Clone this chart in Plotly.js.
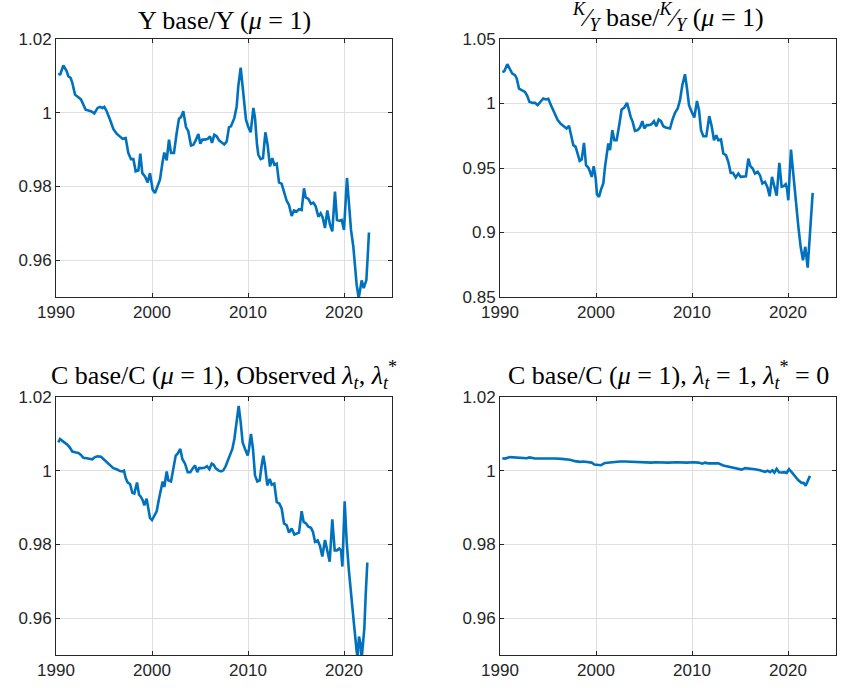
<!DOCTYPE html>
<html>
<head>
<meta charset="utf-8">
<script src="https://cdn.plot.ly/plotly-3.0.1.min.js"></script>
<style>
html,body{margin:0;padding:0;background:#fff;}
#chart{width:842px;height:688px;}
</style>
</head>
<body>
<div id="chart"></div>
<script>
// Panel 1: Y base/Y (mu = 1)
const yearsY = [1990.31,1990.42,1990.76,1991.11,1991.28,1991.53,1991.70,1991.98,1992.26,1992.60,1992.85,1993.09,1993.37,1993.65,1993.99,1994.34,1994.58,1994.83,1995.03,1995.28,1995.63,1995.97,1996.32,1996.67,1996.94,1997.26,1997.53,1997.81,1998.06,1998.30,1998.58,1998.78,1998.99,1999.27,1999.55,1999.79,2000.07,2000.31,2000.59,2000.83,2001.08,2001.28,2001.53,2001.77,2001.98,2002.29,2002.57,2002.81,2003.02,2003.26,2003.54,2003.78,2004.06,2004.31,2004.55,2004.83,2005.03,2005.24,2005.52,2005.80,2006.04,2006.25,2006.49,2006.74,2006.98,2007.26,2007.53,2007.78,2008.02,2008.23,2008.58,2008.82,2008.99,2009.24,2009.41,2009.58,2009.79,2010.03,2010.28,2010.56,2010.73,2010.94,2011.08,2011.32,2011.56,2011.81,2012.05,2012.29,2012.53,2012.74,2012.99,2013.23,2013.51,2013.79,2014.03,2014.27,2014.55,2014.79,2015.07,2015.31,2015.59,2015.83,2016.01,2016.29,2016.56,2016.81,2017.05,2017.33,2017.57,2017.78,2018.02,2018.26,2018.54,2018.78,2019.06,2019.27,2019.51,2019.76,2020.00,2020.31,2020.52,2020.73,2020.97,2021.15,2021.32,2021.53,2021.67,2021.84,2022.05,2022.33,2022.47,2022.60];
const valsY = [1.0108,1.0102,1.0128,1.0113,1.0099,1.0094,1.0081,1.0049,1.0043,1.0036,1.0022,1.0008,1.0006,1.0004,0.9998,1.0013,1.0016,1.0013,1.0016,1.0004,0.9981,0.9956,0.9943,0.9936,0.9929,0.9931,0.9891,0.9874,0.9874,0.9841,0.9843,0.9889,0.9836,0.9827,0.9811,0.9836,0.9791,0.9782,0.9800,0.9818,0.9863,0.9892,0.9871,0.9927,0.9891,0.9891,0.9945,0.9984,0.9988,1.0004,0.9961,0.9950,0.9911,0.9913,0.9925,0.9942,0.9916,0.9927,0.9927,0.9929,0.9936,0.9918,0.9940,0.9936,0.9925,0.9918,0.9914,0.9922,0.9961,0.9963,0.9986,1.0017,1.0072,1.0122,1.0072,1.0026,0.9981,0.9961,0.9947,1.0013,0.9986,0.9913,0.9886,0.9874,0.9877,0.9947,0.9911,0.9854,0.9877,0.9859,0.9862,0.9811,0.9807,0.9782,0.9761,0.9750,0.9720,0.9735,0.9732,0.9738,0.9736,0.9795,0.9770,0.9766,0.9753,0.9756,0.9746,0.9718,0.9727,0.9716,0.9687,0.9735,0.9696,0.9678,0.9786,0.9709,0.9707,0.9709,0.9682,0.9823,0.9750,0.9682,0.9637,0.9583,0.9533,0.9497,0.9524,0.9545,0.9524,0.9546,0.9610,0.9675];

// Panel 2: K/Y base / K/Y (mu = 1)
const yearsKY = [1990.24,1990.45,1990.76,1991.04,1991.28,1991.56,1991.74,1991.98,1992.26,1992.60,1992.85,1993.06,1993.37,1993.65,1993.92,1994.17,1994.51,1994.76,1995.03,1995.31,1995.66,1996.01,1996.35,1996.67,1996.94,1997.19,1997.40,1997.64,1997.88,1998.09,1998.30,1998.51,1998.75,1998.96,1999.20,1999.38,1999.55,1999.76,1999.97,2000.10,2000.31,2000.52,2000.76,2000.94,2001.15,2001.28,2001.46,2001.70,2001.91,2002.15,2002.40,2002.67,2002.95,2003.23,2003.44,2003.61,2003.82,2004.06,2004.34,2004.58,2004.83,2005.03,2005.28,2005.52,2005.80,2006.04,2006.28,2006.53,2006.77,2007.01,2007.26,2007.53,2007.71,2007.95,2008.23,2008.51,2008.75,2008.99,2009.27,2009.48,2009.69,2009.97,2010.24,2010.52,2010.73,2010.94,2011.18,2011.49,2011.80,2012.05,2012.29,2012.53,2012.74,2013.02,2013.26,2013.54,2013.78,2014.03,2014.27,2014.55,2014.83,2015.07,2015.38,2015.62,2015.87,2016.08,2016.32,2016.56,2016.84,2017.08,2017.33,2017.60,2017.85,2018.09,2018.33,2018.58,2018.82,2019.10,2019.34,2019.55,2019.76,2019.90,2020.03,2020.31,2020.56,2020.80,2021.08,2021.32,2021.56,2021.80,2022.05,2022.29,2022.57];
const valsKY = [1.0245,1.0250,1.0305,1.0271,1.0232,1.0219,1.0194,1.0116,1.0103,1.0090,1.0057,1.0013,1.0005,1.0005,0.9987,1.0013,1.0039,1.0031,1.0036,0.9987,0.9935,0.9871,0.9840,0.9824,0.9806,0.9827,0.9754,0.9677,0.9664,0.9599,0.9555,0.9566,0.9695,0.9522,0.9504,0.9470,0.9431,0.9514,0.9418,0.9297,0.9276,0.9333,0.9380,0.9509,0.9638,0.9690,0.9638,0.9793,0.9715,0.9715,0.9824,0.9953,0.9969,1.0005,0.9948,0.9896,0.9858,0.9788,0.9793,0.9814,0.9863,0.9806,0.9832,0.9832,0.9840,0.9863,0.9824,0.9876,0.9863,0.9824,0.9814,0.9806,0.9806,0.9871,0.9927,0.9961,1.0026,1.0142,1.0227,1.0116,0.9987,0.9935,0.9891,1.0020,0.9948,0.9793,0.9746,0.9746,0.9902,0.9824,0.9715,0.9754,0.9715,0.9721,0.9612,0.9599,0.9548,0.9462,0.9462,0.9426,0.9457,0.9431,0.9436,0.9436,0.9573,0.9514,0.9496,0.9457,0.9470,0.9444,0.9380,0.9393,0.9354,0.9281,0.9431,0.9354,0.9286,0.9540,0.9354,0.9359,0.9374,0.9341,0.9250,0.9643,0.9431,0.9230,0.9044,0.8889,0.8785,0.8889,0.8728,0.8992,0.9307];

// Panel 3: C base/C (mu = 1), observed lambda
const yearsC1 = [1990.24,1990.42,1990.66,1990.94,1991.22,1991.46,1991.70,1991.98,1992.33,1992.60,1992.85,1993.19,1993.54,1993.78,1994.06,1994.34,1994.69,1994.93,1995.28,1995.63,1995.97,1996.32,1996.67,1996.91,1997.08,1997.26,1997.47,1997.71,1997.95,1998.16,1998.44,1998.65,1998.85,1999.03,1999.20,1999.44,1999.62,1999.79,2000.00,2000.21,2000.49,2000.73,2000.94,2001.11,2001.28,2001.53,2001.70,2001.98,2002.22,2002.47,2002.67,2002.95,2003.16,2003.44,2003.72,2003.99,2004.27,2004.48,2004.72,2004.90,2005.17,2005.45,2005.73,2005.97,2006.22,2006.42,2006.63,2006.91,2007.19,2007.43,2007.67,2007.88,2008.13,2008.37,2008.58,2008.79,2009.03,2009.24,2009.44,2009.69,2009.97,2010.10,2010.31,2010.52,2010.73,2010.97,2011.22,2011.42,2011.60,2011.77,2012.01,2012.26,2012.47,2012.74,2012.99,2013.26,2013.51,2013.75,2014.03,2014.27,2014.55,2014.83,2015.07,2015.31,2015.59,2015.80,2016.04,2016.29,2016.56,2016.77,2016.98,2017.26,2017.50,2017.74,2018.02,2018.26,2018.51,2018.78,2019.03,2019.27,2019.51,2019.69,2019.83,2020.07,2020.28,2020.52,2020.80,2021.08,2021.32,2021.42,2021.56,2021.74,2021.84,2022.12,2022.26,2022.43];
const valsC1 = [1.0077,1.0086,1.0081,1.0075,1.0070,1.0062,1.0052,1.0050,1.0048,1.0043,1.0035,1.0034,1.0032,1.0031,1.0037,1.0039,1.0038,1.0032,1.0023,1.0014,1.0007,1.0004,0.9999,0.9998,1.0000,0.9980,0.9968,0.9964,0.9940,0.9938,0.9968,0.9935,0.9929,0.9920,0.9906,0.9924,0.9890,0.9872,0.9866,0.9877,0.9890,0.9924,0.9956,0.9971,0.9956,0.9998,0.9974,0.9971,1.0005,1.0041,1.0046,1.0059,1.0032,1.0019,0.9996,0.9996,1.0007,1.0014,0.9996,1.0007,1.0007,1.0008,1.0012,1.0004,1.0019,1.0016,1.0007,1.0001,0.9998,1.0001,1.0012,1.0028,1.0046,1.0059,1.0086,1.0131,1.0176,1.0131,1.0077,1.0059,1.0041,1.0059,1.0100,1.0059,0.9987,0.9971,0.9974,1.0014,1.0041,1.0014,0.9960,0.9978,0.9962,0.9965,0.9915,0.9911,0.9897,0.9857,0.9852,0.9832,0.9843,0.9827,0.9830,0.9832,0.9890,0.9861,0.9857,0.9848,0.9845,0.9834,0.9807,0.9811,0.9796,0.9767,0.9812,0.9787,0.9753,0.9868,0.9784,0.9784,0.9789,0.9784,0.9740,0.9917,0.9807,0.9726,0.9640,0.9573,0.9510,0.9490,0.9550,0.9528,0.9490,0.9573,0.9663,0.9751];

// Panel 4: C base/C (mu = 1), lambda_t = 1, lambda*_t = 0
const yearsC2 = [1990.24,1990.52,1991.04,1991.56,1992.26,1992.78,1993.06,1993.65,1994.34,1995.03,1995.73,1996.42,1996.94,1997.29,1997.81,1998.33,1998.68,1999.03,1999.55,1999.83,2000.24,2000.52,2000.94,2001.46,2001.98,2002.50,2003.02,2003.72,2004.41,2005.10,2005.80,2006.15,2006.84,2007.53,2008.40,2008.92,2009.44,2010.14,2010.66,2011.08,2011.35,2011.70,2012.22,2012.74,2013.26,2013.78,2014.31,2014.83,2015.17,2015.52,2016.04,2016.56,2017.08,2017.60,2017.88,2018.13,2018.37,2018.58,2018.82,2019.06,2019.34,2019.62,2019.86,2020.10,2020.38,2020.73,2021.08,2021.42,2021.63,2021.84,2022.05,2022.29];
const valsC2 = [1.0034,1.0033,1.0037,1.0036,1.0034,1.0034,1.0036,1.0033,1.0033,1.0034,1.0033,1.0032,1.0032,1.0030,1.0026,1.0024,1.0025,1.0023,1.0022,1.0017,1.0016,1.0015,1.0021,1.0023,1.0023,1.0025,1.0025,1.0024,1.0023,1.0023,1.0022,1.0023,1.0022,1.0022,1.0023,1.0022,1.0022,1.0023,1.0022,1.0019,1.0022,1.0020,1.0020,1.0020,1.0014,1.0011,1.0008,1.0005,1.0003,1.0007,1.0006,1.0004,1.0001,0.9997,1.0000,0.9996,1.0001,0.9995,1.0005,0.9996,0.9995,0.9996,0.9994,1.0004,0.9996,0.9985,0.9974,0.9967,0.9967,0.9959,0.9972,0.9986];

const xTicks = [1990, 2000, 2010, 2020];
const xTickText = ['1990', '2000', '2010', '2020'];
const yTicksA = [0.96, 0.98, 1, 1.02];
const yTickTextA = ['0.96', '0.98', '1', '1.02'];
const yTicksB = [0.85, 0.9, 0.95, 1, 1.05];
const yTickTextB = ['0.85', '0.9', '0.95', '1', '1.05'];

const titles = [
  'Y base/Y (<i>μ</i> = 1)',
  '<sup><i>K</i></sup>⁄<sub><i>Y</i></sub> base/<sup><i>K</i></sup>⁄<sub><i>Y</i></sub> (<i>μ</i> = 1)',
  'C base/C (<i>μ</i> = 1), Observed <i>λ</i><sub><i>t</i></sub>, <i>λ</i><sub><i>t</i></sub><sup>*</sup>',
  'C base/C (<i>μ</i> = 1), <i>λ</i><sub><i>t</i></sub> = 1, <i>λ</i><sub><i>t</i></sub><sup>*</sup> = 0'
];

const W = 842, H = 688;
const xDomL = [56 / W, 392 / W];
const xDomR = [500 / W, 836 / W];
const yDomT = [(H - 297) / H, (H - 39) / H];
const yDomB = [(H - 655) / H, (H - 397) / H];

const lineStyle = {color: '#0072BD', width: 2.6};
const traces = [
  {x: yearsY, y: valsY, xaxis: 'x', yaxis: 'y'},
  {x: yearsKY, y: valsKY, xaxis: 'x2', yaxis: 'y2'},
  {x: yearsC1, y: valsC1, xaxis: 'x3', yaxis: 'y3'},
  {x: yearsC2, y: valsC2, xaxis: 'x4', yaxis: 'y4'}
].map(t => Object.assign(t, {type: 'scatter', mode: 'lines', line: lineStyle, hoverinfo: 'skip'}));

const axisColor = '#262626';
const tickFont = {family: 'Liberation Sans, Arial, sans-serif', size: 17, color: axisColor};
function xAxis(dom, anchor) {
  return {
    domain: dom, anchor: anchor, range: [1990, 2025],
    tickmode: 'array', tickvals: xTicks, ticktext: xTickText,
    ticks: 'inside', ticklen: 4, tickcolor: axisColor, tickwidth: 1,
    showline: true, linecolor: axisColor, linewidth: 1, mirror: 'ticks',
    showgrid: true, gridcolor: '#dfdfdf', gridwidth: 1, zeroline: false,
    tickfont: tickFont
  };
}
function yAxis(dom, anchor, range, tv, tt) {
  return {
    domain: dom, anchor: anchor, range: range,
    tickmode: 'array', tickvals: tv, ticktext: tt,
    ticks: 'inside', ticklen: 4, tickcolor: axisColor, tickwidth: 1,
    showline: true, linecolor: axisColor, linewidth: 1, mirror: 'ticks',
    showgrid: true, gridcolor: '#dfdfdf', gridwidth: 1, zeroline: false,
    tickfont: tickFont
  };
}

const titleFont = {family: 'Liberation Serif, Times New Roman, serif', size: 26, color: '#000'};
const annotations = [
  {x: (xDomL[0] + xDomL[1]) / 2, y: yDomT[1], text: titles[0]},
  {x: (xDomR[0] + xDomR[1]) / 2, y: yDomT[1], text: titles[1]},
  {x: (xDomL[0] + xDomL[1]) / 2, y: yDomB[1], text: titles[2]},
  {x: (xDomR[0] + xDomR[1]) / 2, y: yDomB[1], text: titles[3]}
].map(a => Object.assign(a, {xref: 'paper', yref: 'paper', xanchor: 'center', yanchor: 'bottom', yshift: 2, showarrow: false, font: titleFont}));

const layout = {
  width: W, height: H,
  margin: {l: 0, r: 0, t: 0, b: 0},
  paper_bgcolor: '#ffffff', plot_bgcolor: '#ffffff',
  showlegend: false,
  xaxis: xAxis(xDomL, 'y'),
  yaxis: yAxis(yDomT, 'x', [0.95, 1.02], yTicksA, yTickTextA),
  xaxis2: xAxis(xDomR, 'y2'),
  yaxis2: yAxis(yDomT, 'x2', [0.85, 1.05], yTicksB, yTickTextB),
  xaxis3: xAxis(xDomL, 'y3'),
  yaxis3: yAxis(yDomB, 'x3', [0.95, 1.02], yTicksA, yTickTextA),
  xaxis4: xAxis(xDomR, 'y4'),
  yaxis4: yAxis(yDomB, 'x4', [0.95, 1.02], yTicksA, yTickTextA),
  annotations: annotations
};

Plotly.newPlot('chart', traces, layout, {staticPlot: true, displayModeBar: false});
</script>
</body>
</html>
